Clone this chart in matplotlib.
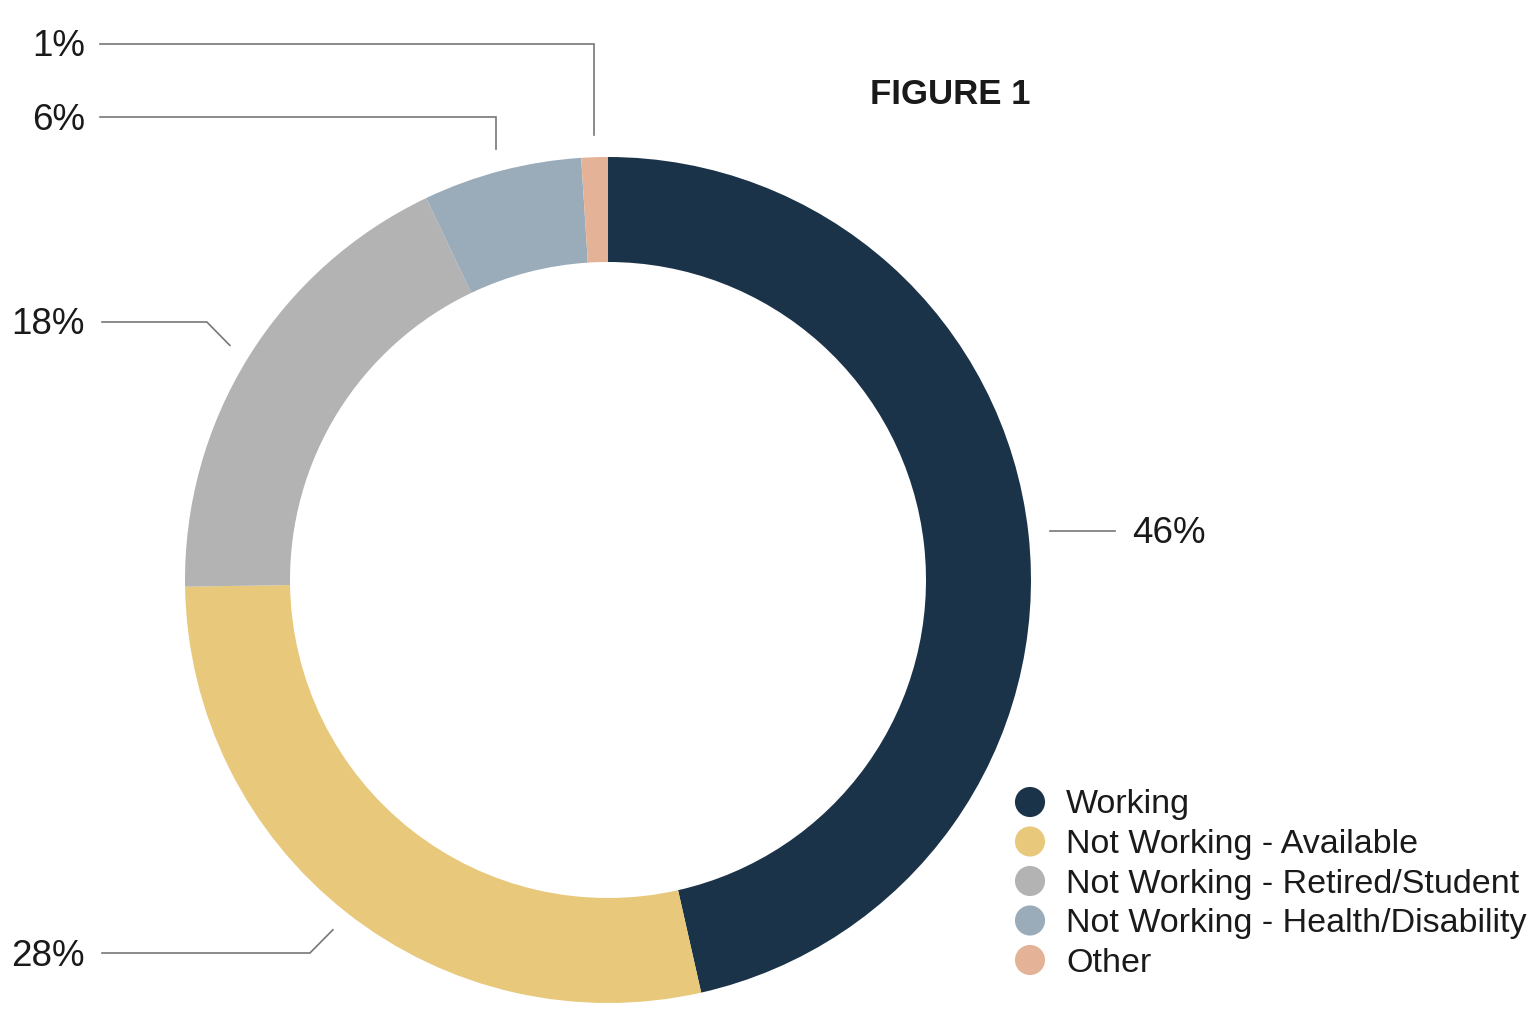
import matplotlib.pyplot as plt
import numpy as np

plt.rcParams['font.family'] = ['Liberation Sans', 'DejaVu Sans']

categories = ['Working', 'Not Working - Available', 'Not Working - Retired/Student',
              'Not Working - Health/Disability', 'Other']
values = [46, 28, 18, 6, 1]
pct_labels = ['46%', '28%', '18%', '6%', '1%']
colors = ['#1b3349', '#e8c87b', '#b3b3b3', '#9aabb9', '#e4b397']

W, H = 1537, 1009
cx, cy, R = 608, 580, 423   # donut centre / radius in pixels

fig = plt.figure(figsize=(W / 100, H / 100), dpi=100)
ax = fig.add_axes([(cx - R) / W, (H - cy - R) / H, 2 * R / W, 2 * R / H])
wedges, _ = ax.pie(values, colors=colors, startangle=90, counterclock=False,
                   radius=1, wedgeprops=dict(width=1 - 318 / R, linewidth=0))
ax.set_xlim(-1, 1)
ax.set_ylim(-1, 1)
ax.set_aspect('equal')
ax.axis('off')

# overlay in pixel coordinates for leader lines, labels, legend
ov = fig.add_axes([0, 0, 1, 1], zorder=3)
ov.set_xlim(0, W)
ov.set_ylim(H, 0)
ov.axis('off')

# per-label layout: (label y, elbow dx, line end x, label x, ha)
layout = [
    (None, 0, 1115, 1132, 'left'),
    (953, -23, 102, 85, 'right'),
    (322, -23, 102, 85, 'right'),
    (117, 0, 100, 85, 'right'),
    (44, 0, 100, 85, 'right'),
]
gap = 22
for w, lab, (ly, dx, ex, tx, ha) in zip(wedges, pct_labels, layout):
    th = np.radians((w.theta1 + w.theta2) / 2)
    sx = cx + (R + gap) * np.cos(th)
    sy = cy - (R + gap) * np.sin(th)
    if ly is None:
        ly = sy
    bx = sx + dx
    ov.plot([sx, bx, ex], [sy, ly, ly], color='#777777', lw=1.2,
            solid_joinstyle='miter')
    ov.text(tx, ly + 3, lab, ha=ha, va='center', fontsize=26.5, color='#1a1a1a')

ov.text(950, 95, 'FIGURE 1', ha='center', va='center', fontsize=25,
        fontweight='bold', color='#1a1a1a')

# legend
for i, (lab, col) in enumerate(zip(categories, colors)):
    y = 802 + i * 39.5
    ov.scatter(1030, y, s=470, color=col, edgecolors='none')
    ov.text(1066, y + 3, lab, ha='left', va='center', fontsize=24.5, color='#1a1a1a')

fig.savefig('out.png', dpi=100, facecolor='white')
